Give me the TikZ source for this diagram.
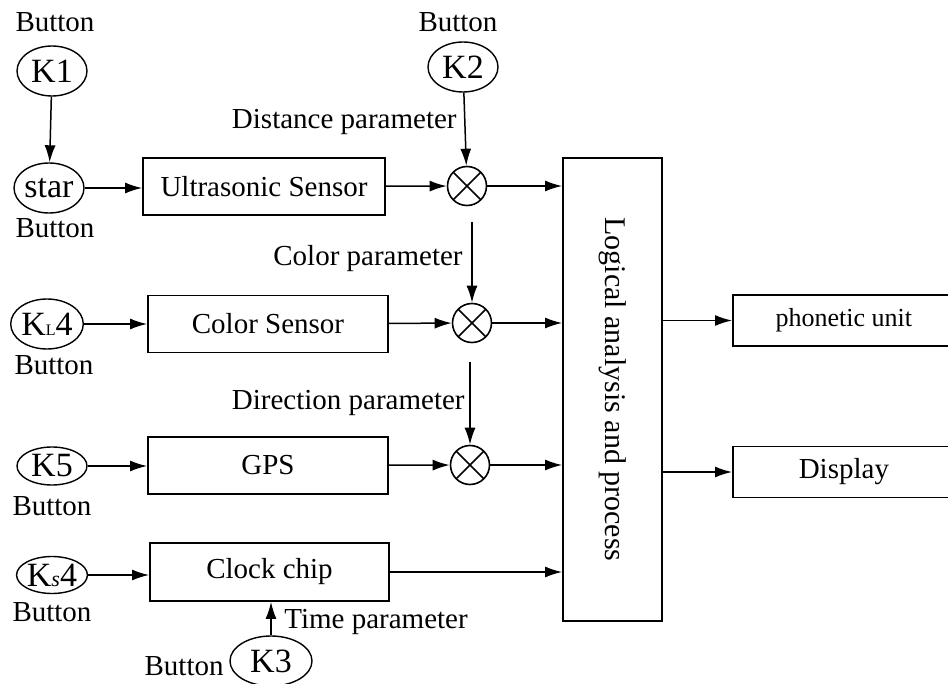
\documentclass[tikz,border=0pt]{standalone}
\usepackage{fontspec}
\setmainfont{Liberation Serif}
\usetikzlibrary{arrows.meta, shapes.geometric}

\begin{document}
\begin{tikzpicture}[x=0.5pt, y=-0.5pt,
        font=\fontsize{14.5}{17}\selectfont,
        btn/.style={ellipse, draw, line width=0.7pt, inner sep=0pt, minimum width=35pt, minimum height=25pt, font=\fontsize{17}{19}\selectfont},
        block/.style={rectangle, draw, line width=0.9pt, minimum width=120pt, minimum height=28.5pt},
        mult/.style={circle, draw, line width=0.8pt, minimum size=19.5pt, inner sep=0pt,
            path picture={\draw[line width=0.8pt] (path picture bounding box.north west) -- (path picture bounding box.south east)
                (path picture bounding box.north east) -- (path picture bounding box.south west);}},
        lbl/.style={inner sep=0pt},
        arr/.style={-{Latex[length=8.5pt,width=5.5pt]}, line width=0.75pt}]
    \useasboundingbox (0,0) rectangle (948,684);

    % buttons
    \node[btn] (k1) at (52,71) {K1};
    \node[btn, minimum height=25pt] (star) at (49,188) {star};
    \node[btn] (kl4) at (47,324) {K{\fontsize{8}{8}\selectfont L}4};
    \node[btn, minimum height=19pt] (k5) at (52,466) {K5};
    \node[btn, minimum height=18.5pt] (ks4) at (52,575) {K{\fontsize{11}{11}\selectfont\itshape s}4};
    \node[btn] (k2) at (463,67) {K2};
    \node[btn, minimum width=41pt] (k3) at (271,661) {K3};

    \node[lbl] (bk1) at (55,22) {Button};
    \node[lbl] (bstar) at (55,228) {Button};
    \node[lbl] (bkl4) at (54,365) {Button};
    \node[lbl] (bk5) at (52,506) {Button};
    \node[lbl] (bks4) at (52,612) {Button};
    \node[lbl] (bk2) at (458,22) {Button};
    \node[lbl, anchor=east] (bk3) at (224,666) {Button};

    % blocks
    \node[block, minimum width=121pt] (us) at (264,186.5) {Ultrasonic Sensor};
    \node[block] (cs) at (268,324) {Color Sensor};
    \node[block] (gps) at (268,465.5) {GPS};
    \node[block, minimum width=119.5pt, minimum height=29pt] (clk) at (269.5,572) {Clock chip};
    \node[block, minimum width=49.5pt, minimum height=231.5pt] (lap) at (612.5,389.5) {};
    \node[rotate=-90, font=\fontsize{15}{17}\selectfont] at (lap.center) {Logical analysis and process};
    \node[block, anchor=west, minimum width=111pt, minimum height=25.5pt, font=\fontsize{13}{15}\selectfont] (pu) at (732,320.5) {phonetic unit};
    \node[block, anchor=west, minimum width=111pt, minimum height=25.5pt] (dsp) at (732,472) {Display};

    % multipliers
    \node[mult] (m1) at (467,186) {};
    \node[mult] (m2) at (472,323) {};
    \node[mult] (m3) at (470,465) {};
    \coordinate (c2) at (472,222);
    \coordinate (c3) at (470,362);

    \node[lbl, anchor=east] (dp) at (457,122) {Distance parameter};
    \node[lbl, anchor=east] (cp) at (463,259) {Color parameter};
    \node[lbl, anchor=east] (drp) at (465,403) {Direction parameter};
    \node[lbl, anchor=west] (tp) at (284,622) {Time parameter};

    % connections
    \draw[arr] (k1) -- (star);
    \draw[arr] (star.east) -- (star.east -| us.west);
    \draw[arr] (kl4) -- (kl4 -| cs.west);
    \draw[arr] (k5) -- (k5 -| gps.west);
    \draw[arr] (ks4) -- (ks4 -| clk.west);
    \draw[arr] (k3) -- (k3 |- clk.south);

    \draw[arr] (us) -- (m1);
    \draw[arr] (cs) -- (m2);
    \draw[arr] (gps) -- (m3);
    \draw[arr] (k2) -- (m1);
    \draw[arr] (c2) -- (m2);
    \draw[arr] (c3) -- (m3);

    \draw[arr] (m1) -- (m1 -| lap.west);
    \draw[arr] (m2) -- (m2 -| lap.west);
    \draw[arr] (m3) -- (m3 -| lap.west);
    \draw[arr] (clk) -- (clk -| lap.west);

    \draw[arr] (lap.east |- pu) -- (pu);
    \draw[arr] (lap.east |- dsp) -- (dsp);
\end{tikzpicture}
\end{document}
